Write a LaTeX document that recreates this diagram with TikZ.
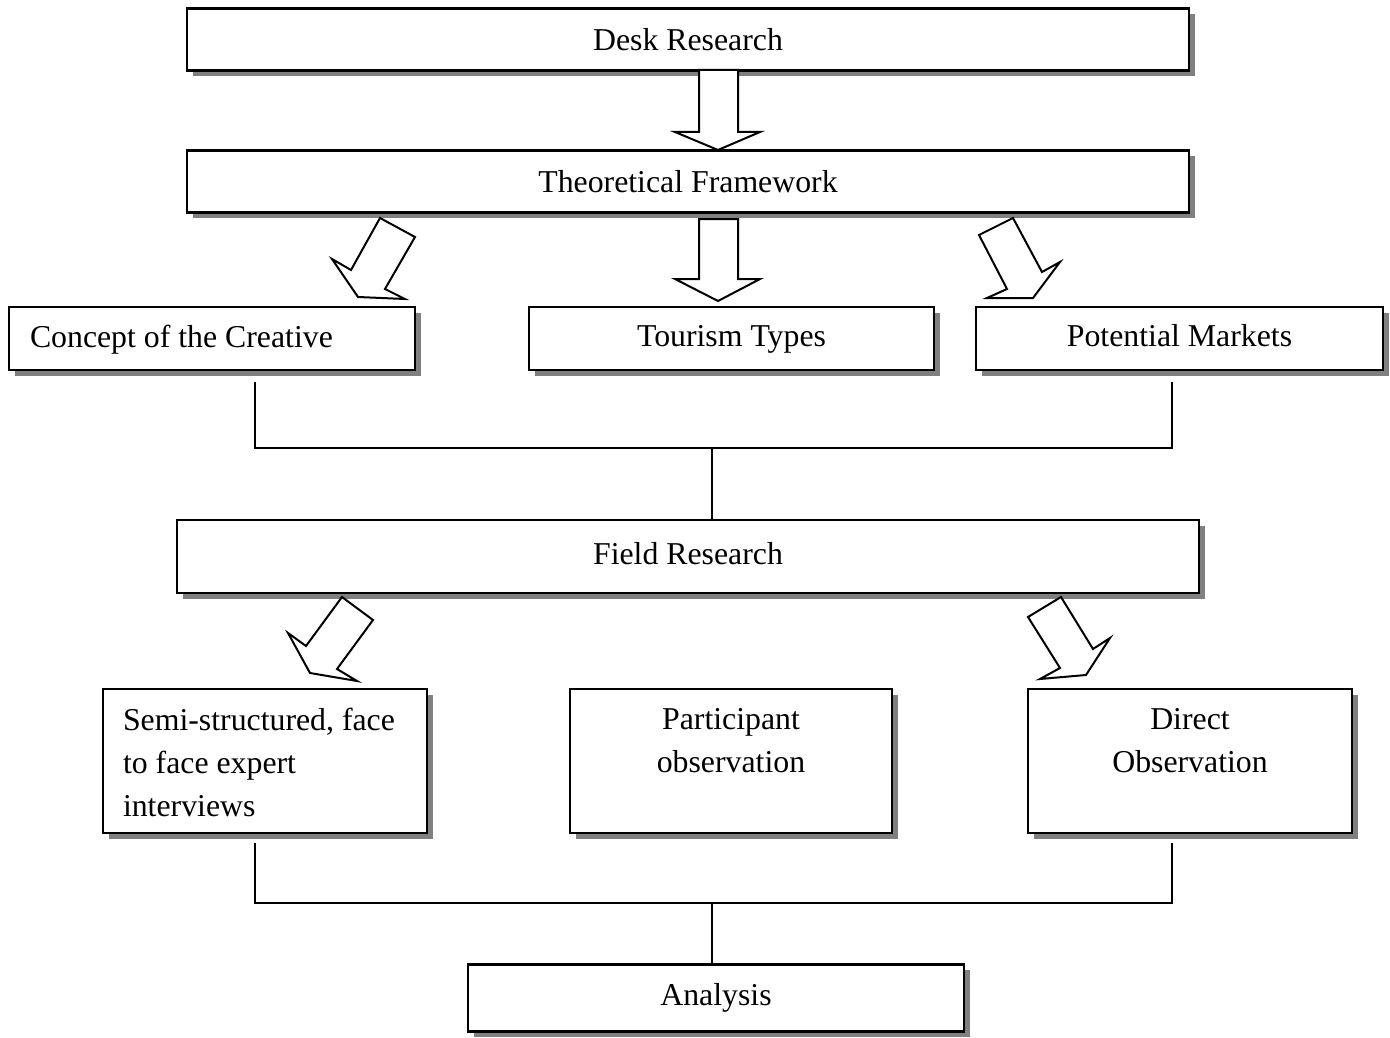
\documentclass[tikz,border=0pt]{standalone}
\usepackage{fontspec}
\setmainfont{Liberation Serif}
\usetikzlibrary{shadows}
\begin{document}
\begin{tikzpicture}[x=1pt,y=-1pt,
  every node/.style={font=\fontsize{31.8}{43}\selectfont},
  box/.style={draw=black, line width=2.2pt, fill=white, inner sep=0pt, outer sep=0pt,
    text height=22pt, text depth=7pt,
    drop shadow={shadow xshift=5.5pt, shadow yshift=-5.5pt, fill=black!50, opacity=1}},
  lowtext/.style={text height=26pt, text depth=3pt},
  lbl/.style={inner sep=0pt, outer sep=0pt},
  conn/.style={line width=1.5pt},
  barrow/.style={draw=black, line width=2pt, fill=white, line join=miter}]
\useasboundingbox (0,0) rectangle (1390,1038);

% boxes
\node[box, lowtext, minimum width=1002pt, minimum height=62pt] (desk) at (688,39.5) {Desk Research};
\node[box, lowtext, minimum width=1002pt, minimum height=62pt] (theo) at (688,181.5) {Theoretical Framework};
\node[box, minimum width=406pt, minimum height=63pt] (concept) at (212,338.5) {};
\node[box, minimum width=405pt, minimum height=63pt] (tourism) at (731.5,338.5) {Tourism Types};
\node[box, minimum width=407pt, minimum height=63pt] (markets) at (1179.5,338.5) {Potential Markets};
\node[box, minimum width=1022pt, minimum height=73pt] (field) at (688,556.5) {Field Research};
\node[box, minimum width=324pt, minimum height=144pt] (semi) at (265,761) {};
\node[box, minimum width=322pt, minimum height=144pt] (part) at (731,761) {};
\node[box, minimum width=324pt, minimum height=144pt] (direct) at (1190,761) {};
\node[box, minimum width=496pt, minimum height=67pt] (analysis) at (716,998) {Analysis};

% left-aligned texts
\node[lbl, anchor=base west] (conceptt) at (30,347) {Concept of the Creative};
\node[lbl, align=left, anchor=north west] (semit) at (123,708) {Semi-structured, face\\to face expert\\interviews};
\node[lbl, align=center, anchor=north] (partt) at (731,708) {Participant\\observation};
\node[lbl, align=center, anchor=north] (directt) at (1190,708) {Direct\\Observation};

% block arrows
\draw[barrow] (699,70) -- (699,132) -- (675,132) -- (718,150) -- (760,132) -- (738,132) -- (738,70) -- cycle;
\draw[barrow] (699,219) -- (699,279) -- (675,279) -- (718,301) -- (760,279) -- (738,279) -- (738,219) -- cycle;
\draw[barrow] (380,218) -- (415,237) -- (385,289) -- (405,299) -- (358,297) -- (332,259) -- (351,270) -- cycle;
\draw[barrow] (1013,218) -- (979,235) -- (1007,289) -- (987,298) -- (1033,298) -- (1060,262) -- (1042,272) -- cycle;
\draw[barrow] (342,597) -- (373,620) -- (337,669) -- (357,681) -- (310,673) -- (288,633) -- (306,646) -- cycle;
\draw[barrow] (1061,597) -- (1028,617) -- (1060,668) -- (1040,679) -- (1086,675) -- (1110,638) -- (1093,649) -- cycle;

% connectors
\coordinate (aL) at (255,382);
\coordinate (aR) at (1172,382);
\coordinate (j1) at (712,448);
\coordinate (bL) at (255,843);
\coordinate (bR) at (1172,843);
\coordinate (j2) at (712,903);
\draw[conn] (aL) |- (j1) -| (aR);
\draw[conn] (j1) -- (j1 |- field.north);
\draw[conn] (bL) |- (j2) -| (bR);
\draw[conn] (j2) -- (j2 |- analysis.north);
\end{tikzpicture}
\end{document}
